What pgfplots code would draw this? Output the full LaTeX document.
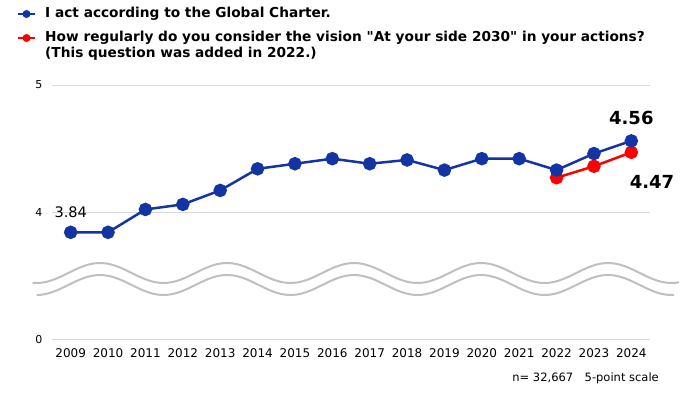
\documentclass[border=0pt]{standalone}
\usepackage{fontspec}
\setmainfont{DejaVu Sans}[Ligatures=TeXOff]
\usepackage{pgfplots}
\pgfplotsset{compat=1.18}
\definecolor{myblue}{HTML}{1434A4}
\definecolor{myred}{HTML}{FF0000}
\definecolor{gridgray}{HTML}{D9D9D9}
\definecolor{wavegray}{HTML}{BFBFBF}
\begin{document}
\begin{tikzpicture}[x=1pt,y=1pt]
\useasboundingbox (0,0) rectangle (700,392);
\begin{axis}[
  at={(52pt,53pt)}, anchor=south west, scale only axis,
  width=598pt, height=254pt,
  xmin=2008.5, xmax=2024.5, ymin=3, ymax=5,
  xtick={2009,2010,2011,2012,2013,2014,2015,2016,2017,2018,2019,2020,2021,2022,2023,2024},
  xticklabels={2009,2010,2011,2012,2013,2014,2015,2016,2017,2018,2019,2020,2021,2022,2023,2024},
  ytick={3,4,5}, yticklabels={0,4,5},
  ymajorgrids, grid style={gridgray, line width=1pt},
  axis line style={draw=none},
  major tick length=0pt,
  x tick label style={font=\fontsize{12}{14}\selectfont, yshift=-6pt},
  y tick label style={font=\fontsize{11}{13}\selectfont, xshift=-6pt},
  clip=false,
]
\addplot[myred, line width=2.5pt, mark=*, mark size=5.5pt, mark options={draw=none, fill=myred}] coordinates {(2022,4.27)(2023,4.36)(2024,4.47)};
\addplot[myblue, line width=2.5pt, mark=*, mark size=5.5pt, mark options={draw=none, fill=myblue}] coordinates {
(2009,3.84)(2010,3.84)(2011,4.02)(2012,4.06)(2013,4.17)(2014,4.34)(2015,4.38)(2016,4.42)
(2017,4.38)(2018,4.41)(2019,4.33)(2020,4.42)(2021,4.42)(2022,4.33)(2023,4.46)(2024,4.56)};
\node[font=\fontsize{14.5}{16}\selectfont, yshift=20pt] at (axis cs:2009,3.84) {3.84};
\node[font=\bfseries\fontsize{18}{20}\selectfont, yshift=23.3pt] at (axis cs:2024,4.56) {4.56};
\node[font=\bfseries\fontsize{18}{20}\selectfont, yshift=-29.4pt, xshift=20.7pt] at (axis cs:2024,4.47) {4.47};
\end{axis}
% broken-axis waves (decoration)
\draw[wavegray, line width=2pt, domain=32.7:679, samples=150, smooth] plot (\x, {119+10*cos(2.8346*(\x-100))});
\draw[wavegray, line width=2pt, domain=36.7:674, samples=150, smooth] plot (\x, {107+10*cos(2.8346*(\x-100))});
% legend
\draw[myblue, line width=1.8pt] (18,378) -- (35,378);
\fill[myblue] (26.5,378) circle (4pt);
\node[anchor=west, inner sep=0pt, font=\bfseries\fontsize{13.7}{16}\selectfont] at (45,378) {I act according to the Global Charter.};
\draw[myred, line width=1.8pt] (18,354) -- (35,354);
\fill[myred] (26.5,354) circle (4pt);
\node[anchor=west, inner sep=0pt, font=\bfseries\fontsize{13.7}{16}\selectfont] at (45,354) {How regularly do you consider the vision "At your side 2030" in your actions?};
\node[anchor=west, inner sep=0pt, font=\bfseries\fontsize{13.7}{16}\selectfont] at (45,338) {(This question was added in 2022.)};
\node[anchor=east, inner sep=0pt, font=\fontsize{11.5}{13}\selectfont] at (659,14) {n= 32,667\quad 5-point scale};
\end{tikzpicture}
\end{document}
